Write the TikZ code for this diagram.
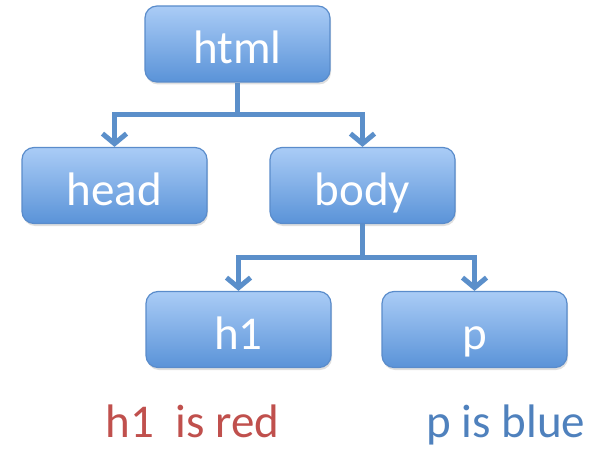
\documentclass[tikz,border=0pt]{standalone}
\usepackage{fontspec}
\setmainfont{Carlito}
\usepackage{xcolor}
\usepackage{tikz}
\usetikzlibrary{arrows.meta,shadows}
\definecolor{boxtop}{HTML}{AACCF6}
\definecolor{boxbot}{HTML}{5A93D8}
\definecolor{boxline}{HTML}{5A8CCB}
\definecolor{linkblue}{HTML}{5B8FCA}
\definecolor{notered}{HTML}{C0504D}
\definecolor{noteblue}{HTML}{4F81BD}

\begin{document}
\begin{tikzpicture}[x=1pt,y=-1pt,
	tag/.style={draw=boxline, line width=1.2pt, rounded corners=12pt,
		top color=boxtop, bottom color=boxbot,
		minimum width=185pt, minimum height=76pt, text=white,
		text height=42pt, text depth=2pt,
		font=\fontsize{47}{56}\selectfont,
		drop shadow={opacity=0.25, shadow xshift=1pt, shadow yshift=-2.5pt}},
	link/.style={draw=linkblue, line width=5pt,
		-{Straight Barb[length=10pt,width=24pt]}},
	note/.style={anchor=base, font=\fontsize{47}{56}\selectfont}]
					\useasboundingbox (0,0) rectangle (596,449);
					
					\coordinate (T) at (237.5,44);
					\coordinate (H) at (114.5,185.5);
					\coordinate (B) at (362.5,185.5);
					\coordinate (E) at (238.5,329.5);
					\coordinate (P) at (474.5,329.5);
					
					\node[tag] (html) at (T) {html};
					\node[tag] (head) at (H) {head};
					\node[tag] (body) at (B) {body};
					\node[tag] (hone) at (E) {h1};
					\node[tag] (para) at (P) {p};
					
					\coordinate (j1) at (237.5,115);
					\coordinate (j2) at (362.5,257);
					
					\draw[link, -] (html.south) -- (j1);
					\draw[link] (j1) -| (head.north);
					\draw[link] (j1) -| (body.north);
					\draw[link, -] (body.south) -- (j2);
					\draw[link] (j2) -| (hone.north);
					\draw[link] (j2) -| (para.north);
					
					\node[note, text=notered] (red) at (192.5,437) {h1\ \ is red};
					\node[note, text=noteblue] (blue) at (506,437) {p is blue};
				\end{tikzpicture}
\end{document}
